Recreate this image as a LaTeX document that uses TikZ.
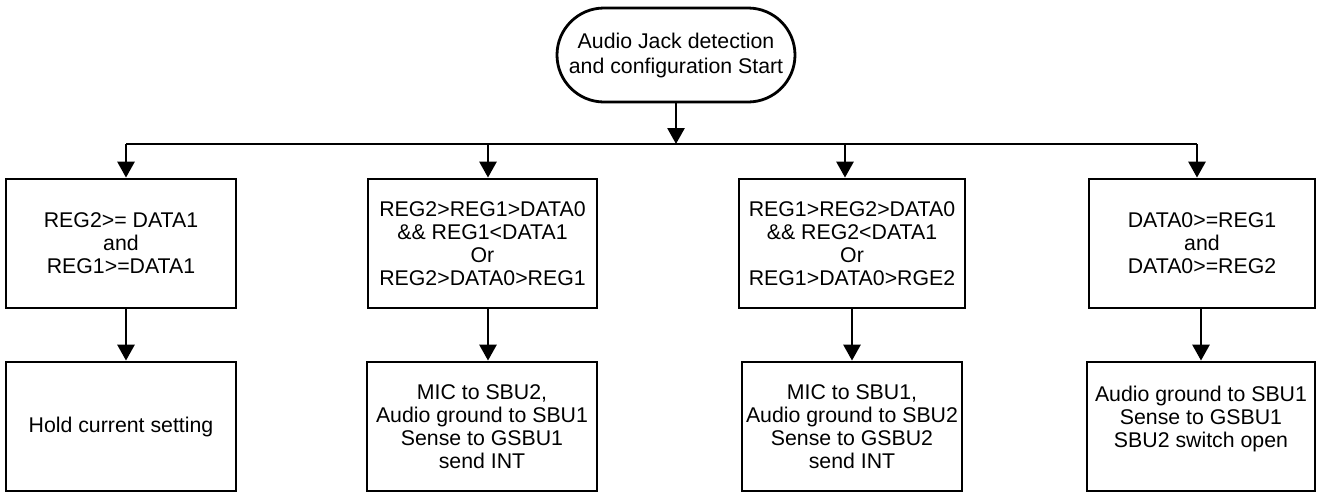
\documentclass[tikz,border=0pt]{standalone}
\usepackage{fontspec}
\setmainfont{Liberation Sans}
\usetikzlibrary{arrows.meta,shapes.misc}
\begin{document}
\begin{tikzpicture}[x=1pt,y=1pt,
  every node/.style={font=\fontsize{21.3}{23}\selectfont},
  flowbox/.style={draw,line width=2.8pt,inner sep=0pt,align=center,minimum height=129pt},
  startbox/.style={draw,line width=2.8pt,rounded rectangle,inner sep=0pt,align=center,
     minimum width=238pt,minimum height=94pt,font=\fontsize{21.3}{25}\selectfont},
  arr/.style={line width=2.8pt,-{Triangle[length=16pt,width=17pt]}},
  bus/.style={line width=2.8pt}]
\useasboundingbox (0,0) rectangle (1317,-493);
\node[startbox] (start) at (676,-55) {Audio Jack detection\\and configuration Start};
\node[flowbox,minimum width=230pt] (a1) at (121,-243.5) {REG2>= DATA1\\and\\REG1>=DATA1};
\node[flowbox,minimum width=229pt] (a2) at (482.5,-243.5) {REG2>REG1>DATA0\\\&\& REG1<DATA1\\Or\\REG2>DATA0>REG1};
\node[flowbox,minimum width=226pt] (a3) at (852,-243.5) {REG1>REG2>DATA0\\\&\& REG2<DATA1\\Or\\REG1>DATA0>RGE2};
\node[flowbox,minimum width=226pt] (a4) at (1202,-243.5) {DATA0>=REG1\\and\\DATA0>=REG2};
\node[flowbox,minimum width=230pt] (b1) at (121,-426.5) {Hold current setting};
\node[flowbox,minimum width=230pt] (b2) at (482,-426.5) {MIC to SBU2,\\Audio ground to SBU1\\Sense to GSBU1\\send INT};
\node[flowbox,minimum width=220pt] (b3) at (852,-426.5) {MIC to SBU1,\\Audio ground to SBU2\\Sense to GSBU2\\send INT};
\node[flowbox,minimum width=228pt,
  label={[align=center,yshift=8pt,font=\fontsize{21.3}{23}\selectfont]center:Audio ground to SBU1\\Sense to GSBU1\\SBU2 switch open}] (b4) at (1201,-426.5) {};
\coordinate (t1) at (126,-144);
\coordinate (t2) at (488,-144);
\coordinate (t3) at (845,-144);
\coordinate (t4) at (1197,-144);
\coordinate (tm) at (676,-144);
\draw[bus] (t1) -- (t4);
\draw[arr] (start.south) -- (tm);
\draw[arr] (t1) -- (t1 |- a1.north);
\draw[arr] (t2) -- (t2 |- a2.north);
\draw[arr] (t3) -- (t3 |- a3.north);
\draw[arr] (t4) -- (t4 |- a4.north);
\draw[arr] (a1.south -| t1) -- (b1.north -| t1);
\draw[arr] (a2.south -| t2) -- (b2.north -| t2);
\draw[arr] (a3.south) -- (b3.north);
\draw[arr] (a4.south -| b4.north) -- (b4.north);
\end{tikzpicture}
\end{document}
